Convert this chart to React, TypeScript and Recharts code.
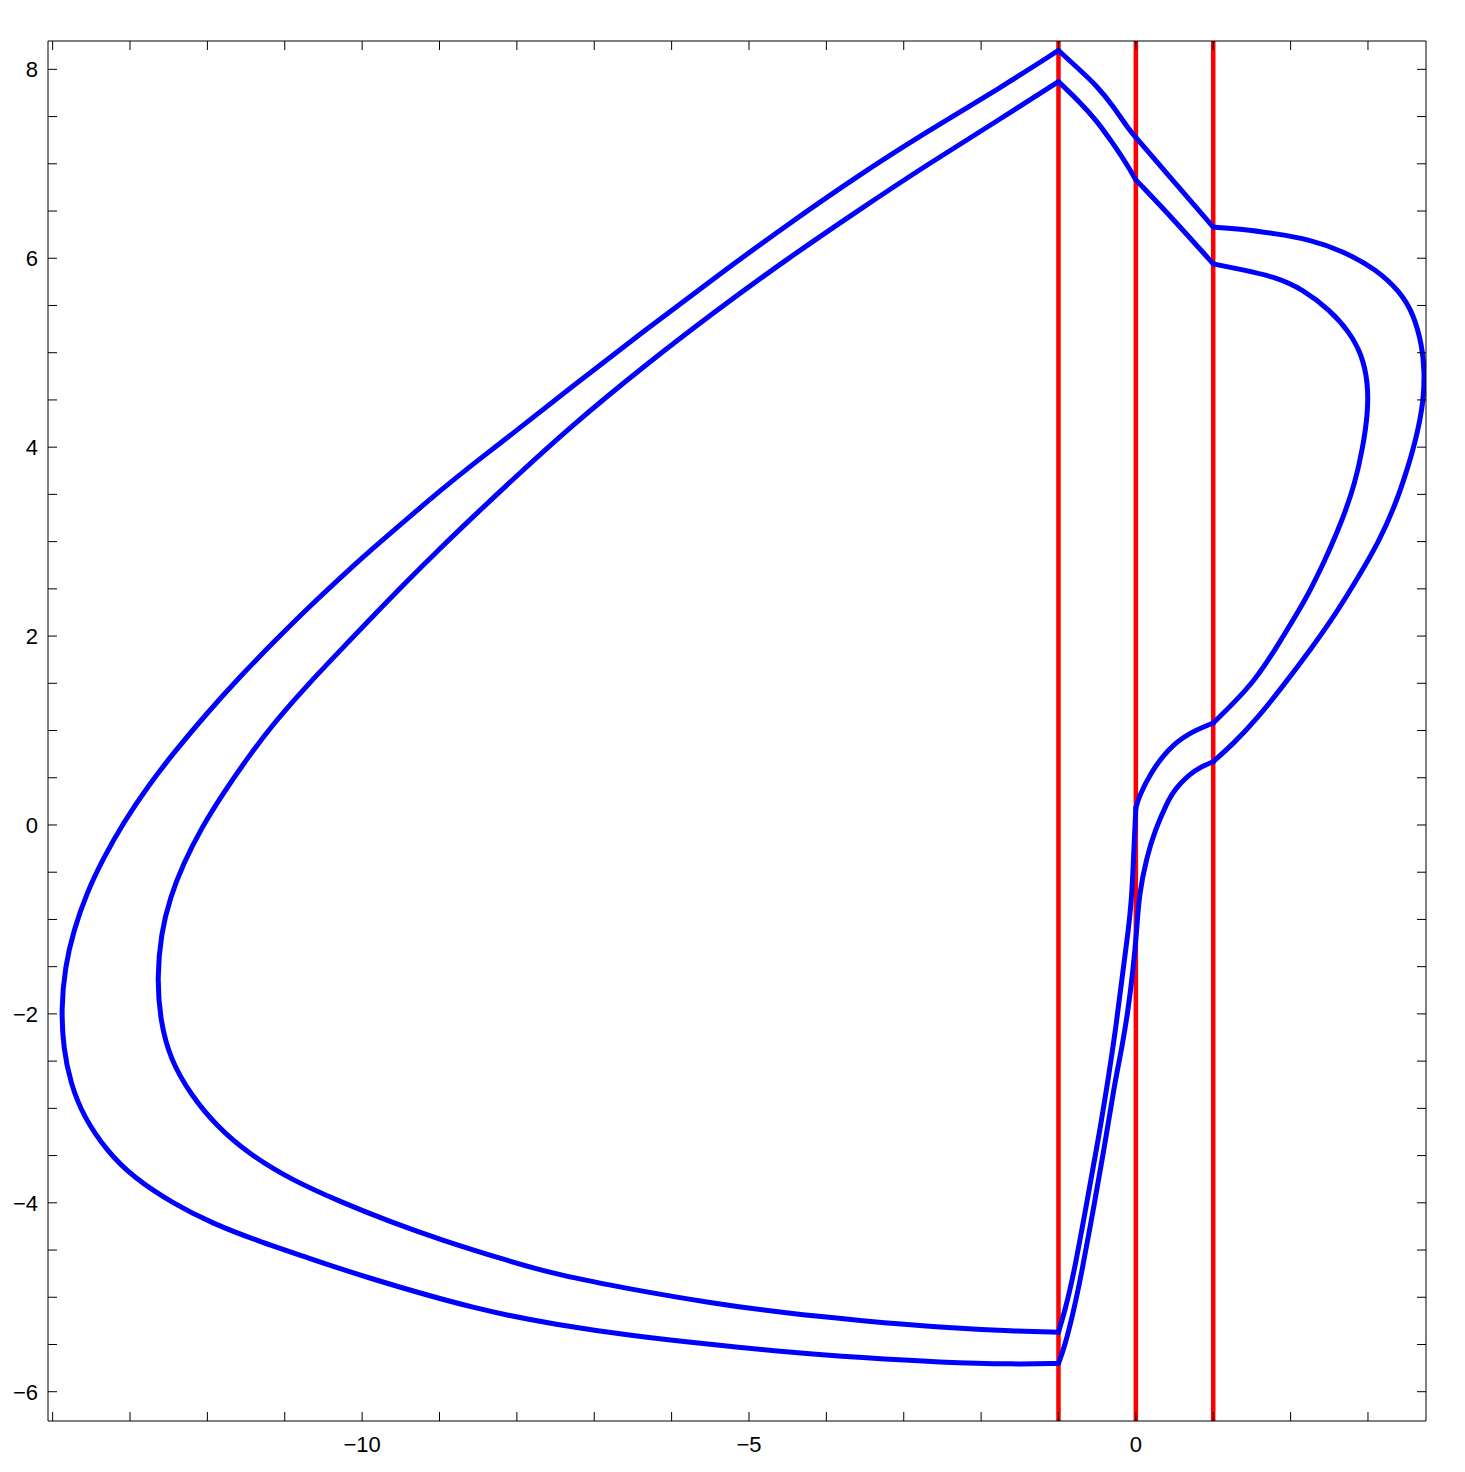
import { LineChart, Line, XAxis, YAxis, ReferenceLine } from "recharts";

// outer contour, split at the corners where it meets x = -1, 0, 1
const outerTopLeft: [number, number][] = [
  [-1.0, 8.2], [-0.72, 7.99], [-0.51, 7.83], [-0.3, 7.62], [-0.08, 7.35], [0.0, 7.28],
];
const outerTopRight: [number, number][] = [[0.0, 7.28], [0.45, 6.85], [1.0, 6.33]];
const outerBulge: [number, number][] = [
  [1.0, 6.33], [1.37, 6.31], [1.81, 6.26], [2.24, 6.2], [2.67, 6.08], [3.11, 5.88],
  [3.41, 5.65], [3.59, 5.41], [3.7, 5.07], [3.73, 4.81], [3.72, 4.49], [3.63, 4.11],
  [3.5, 3.74], [3.34, 3.36], [3.14, 3.0], [2.88, 2.63], [2.58, 2.23], [2.26, 1.86],
  [1.91, 1.48], [1.56, 1.12], [1.26, 0.86], [1.0, 0.67],
];
const outerNeck: [number, number][] = [
  [1.0, 0.67], [0.76, 0.59], [0.5, 0.38], [0.4, 0.23], [0.25, -0.05], [0.14, -0.34],
  [0.04, -0.74], [0.01, -1.14], [-0.04, -1.56], [-0.1, -1.96], [-0.18, -2.36],
  [-0.28, -2.76], [-0.4, -3.38], [-0.53, -3.98], [-0.71, -4.79], [-0.82, -5.2],
  [-0.92, -5.52], [-1.0, -5.7],
];
const outerBody: [number, number][] = [
  [-1.0, -5.7], [-1.55, -5.71], [-2.53, -5.69], [-3.53, -5.64], [-4.52, -5.58],
  [-5.5, -5.5], [-6.5, -5.41], [-7.49, -5.29], [-8.48, -5.14], [-9.99, -4.78],
  [-10.71, -4.58], [-11.36, -4.4], [-11.93, -4.22], [-12.44, -4.01], [-12.96, -3.73],
  [-13.3, -3.45], [-13.6, -3.09], [-13.77, -2.73], [-13.86, -2.37], [-13.89, -1.95],
  [-13.84, -1.5], [-13.73, -1.12], [-13.56, -0.72], [-13.35, -0.36], [-13.09, 0.02],
  [-12.76, 0.42], [-12.44, 0.76], [-12.01, 1.18], [-11.58, 1.57], [-11.14, 1.94],
  [-10.71, 2.29], [-10.28, 2.62], [-9.86, 2.93], [-9.42, 3.24], [-8.99, 3.54],
  [-8.57, 3.82], [-8.09, 4.12], [-7.29, 4.64], [-6.37, 5.22], [-5.45, 5.79],
  [-4.53, 6.34], [-3.6, 6.87], [-2.68, 7.35], [-1.76, 7.8], [-1.0, 8.2],
];

// inner contour, same split
const innerTopLeft: [number, number][] = [
  [-1.0, 7.87], [-0.72, 7.65], [-0.51, 7.46], [-0.3, 7.22], [-0.12, 7.0], [0.0, 6.83],
];
const innerTopRight: [number, number][] = [[0.0, 6.83], [0.5, 6.4], [1.0, 5.94]];
const innerBulge: [number, number][] = [
  [1.0, 5.94], [1.37, 5.88], [1.81, 5.8], [2.16, 5.67], [2.51, 5.45], [2.76, 5.22],
  [2.92, 4.98], [3.0, 4.69], [3.0, 4.36], [2.93, 3.98], [2.83, 3.61], [2.67, 3.23],
  [2.45, 2.81], [2.2, 2.39], [1.89, 1.98], [1.54, 1.51], [1.0, 1.08],
];
const innerHook: [number, number][] = [
  [1.0, 1.08], [0.67, 0.97], [0.41, 0.8], [0.19, 0.55], [0.04, 0.3], [0.0, 0.18],
];
const innerNeck: [number, number][] = [
  [0.0, 0.18], [-0.03, -0.34], [-0.05, -0.74], [-0.1, -1.14], [-0.17, -1.56],
  [-0.25, -2.1], [-0.37, -2.76], [-0.49, -3.35], [-0.63, -3.98], [-0.81, -4.79],
  [-0.92, -5.15], [-1.0, -5.37],
];
const innerBody: [number, number][] = [
  [-1.0, -5.37], [-1.55, -5.36], [-2.53, -5.32], [-3.53, -5.25], [-4.52, -5.17],
  [-5.5, -5.06], [-6.5, -4.92], [-7.49, -4.76], [-8.09, -4.62], [-8.99, -4.39],
  [-9.64, -4.2], [-10.28, -3.99], [-10.93, -3.75], [-11.45, -3.49], [-11.88, -3.19],
  [-12.22, -2.85], [-12.48, -2.48], [-12.61, -2.07], [-12.65, -1.62], [-12.6, -1.15],
  [-12.48, -0.76], [-12.31, -0.41], [-12.09, -0.05], [-11.8, 0.33], [-11.49, 0.7],
  [-11.15, 1.07], [-10.71, 1.48], [-10.28, 1.85], [-9.86, 2.21], [-9.42, 2.58],
  [-8.99, 2.93], [-8.57, 3.26], [-8.09, 3.63], [-7.29, 4.23], [-6.37, 4.85],
  [-5.45, 5.43], [-4.53, 5.98], [-3.6, 6.5], [-2.68, 7.0], [-1.76, 7.47], [-1.0, 7.87],
];

const boundaries = [-1, 0, 1];

const xTicks = [-14, -13, -12, -11, -10, -9, -8, -7, -6, -5, -4, -3, -2, -1, 0, 1, 2, 3];
const xLabels = [-10, -5, 0];
const yTicks = [
  -6, -5.5, -5, -4.5, -4, -3.5, -3, -2.5, -2, -1.5, -1, -0.5, 0, 0.5, 1, 1.5, 2, 2.5,
  3, 3.5, 4, 4.5, 5, 5.5, 6, 6.5, 7, 7.5, 8,
];
const yLabels = [-6, -4, -2, 0, 2, 4, 6, 8];

const pieces = [
  outerTopLeft, outerTopRight, outerBulge, outerNeck, outerBody,
  innerTopLeft, innerTopRight, innerBulge, innerHook, innerNeck, innerBody,
].map((c) => c.map(([x, y]) => ({ x, y })));

const font = "'Liberation Sans', Arial, Helvetica, sans-serif";
const fmt = (v: number) => (v < 0 ? "\u2212" + Math.abs(v) : String(v));

const XTick = (props: any) => {
  const { x, y, payload } = props;
  if (!xLabels.includes(payload.value)) return null;
  return (
    <text x={x} y={y} dy="0.71em" textAnchor="middle" fontSize={22} fontFamily={font} fill="#000">
      {fmt(payload.value)}
    </text>
  );
};

const YTick = (props: any) => {
  const { x, y, payload } = props;
  if (!yLabels.includes(payload.value)) return null;
  return (
    <text x={x} y={y} dy="0.355em" textAnchor="end" fontSize={22} fontFamily={font} fill="#000">
      {fmt(payload.value)}
    </text>
  );
};

// tick marks only, no label (top and right frame)
const NoLabel = () => null;

const axisStroke = { stroke: "#000", strokeWidth: 1 };

export default function App() {
  return (
    <div style={{ width: 1440, height: 1460, background: "#fff" }}>
      <LineChart width={1440} height={1460} margin={{ top: 32, right: 21, bottom: 0, left: 0 }}>
        <XAxis
          dataKey="x"
          type="number"
          domain={[-14.06, 3.75]}
          allowDataOverflow
          ticks={xTicks}
          interval={0}
          height={47}
          tickSize={-9}
          tickMargin={24}
          tick={<XTick />}
          axisLine={axisStroke}
          tickLine={axisStroke}
        />
        <XAxis
          xAxisId="top"
          orientation="top"
          dataKey="x"
          type="number"
          domain={[-14.06, 3.75]}
          allowDataOverflow
          ticks={xTicks}
          interval={0}
          height={1}
          tickSize={-9}
          tick={<NoLabel />}
          axisLine={axisStroke}
          tickLine={axisStroke}
        />
        <YAxis
          type="number"
          domain={[-6.31, 8.3]}
          allowDataOverflow
          ticks={yTicks}
          interval={0}
          width={40}
          tickSize={-9}
          tickMargin={19}
          tick={<YTick />}
          axisLine={axisStroke}
          tickLine={axisStroke}
        />
        <YAxis
          yAxisId="right"
          orientation="right"
          type="number"
          domain={[-6.31, 8.3]}
          allowDataOverflow
          ticks={yTicks}
          interval={0}
          width={1}
          tickSize={-9}
          tick={<NoLabel />}
          axisLine={axisStroke}
          tickLine={axisStroke}
        />
        {boundaries.map((b) => (
          <ReferenceLine key={b} x={b} stroke="#ff0000" strokeWidth={4.5} />
        ))}
        {pieces.map((d, i) => (
          <Line
            key={i}
            data={d}
            dataKey="y"
            type="basis"
            stroke="#0000ff"
            strokeWidth={5}
            strokeLinejoin="round"
            strokeLinecap="round"
            dot={false}
            isAnimationActive={false}
          />
        ))}
      </LineChart>
    </div>
  );
}
